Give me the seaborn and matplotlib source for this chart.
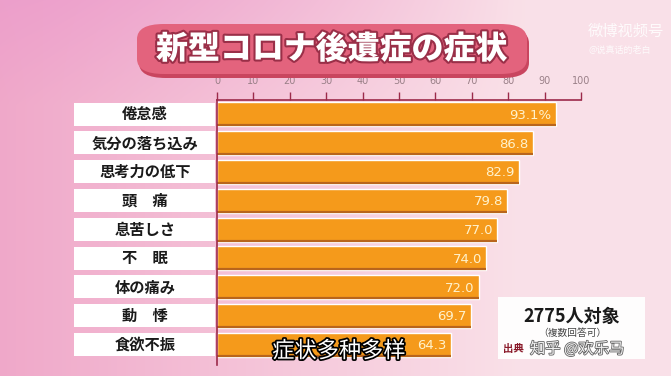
import numpy as np
import pandas as pd
import matplotlib
matplotlib.use("Agg")
import matplotlib.pyplot as plt
import matplotlib.patheffects as pe
from matplotlib.patches import Rectangle, FancyBboxPatch
from matplotlib.transforms import blended_transform_factory
import seaborn as sns

# data
symptoms = ["倦怠感", "気分の落ち込み", "思考力の低下", "頭　痛", "息苦しさ",
            "不　眠", "体の痛み", "動　悸", "食欲不振"]
percent = [93.1, 86.8, 82.9, 79.8, 77.0, 74.0, 72.0, 69.7, 64.3]
value_labels = ["93.1%", "86.8", "82.9", "79.8", "77.0", "74.0", "72.0", "69.7", "64.3"]
ticks = [0, 10, 20, 30, 40, 50, 60, 70, 80, 90, 100]

df = pd.DataFrame({"symptom": symptoms, "percent": percent})

sns.set_theme(style="white")
plt.rcParams["font.family"] = ["Noto Sans CJK JP", "DejaVu Sans"]

W, H = 671, 376
fig = plt.figure(figsize=(W / 100, H / 100), dpi=100)

# pink background gradient
bg = fig.add_axes([0, 0, 1, 1])
xx, yy = np.meshgrid(np.linspace(0, 1, W), np.linspace(0, 1, H))
left_c = np.array([0.94, 0.66, 0.79])
right_c = np.array([0.98, 0.88, 0.91])
t = np.clip(xx * 1.3, 0, 1)[..., None]
img = left_c * (1 - t) + right_c * t
top = np.clip((0.28 - yy) / 0.28, 0, 1)[..., None] * np.clip(1.1 - xx * 1.4, 0, 1)[..., None]
img = img * (1 - 0.6 * top) + np.array([0.92, 0.60, 0.80]) * 0.6 * top
bg.imshow(img, aspect="auto", extent=[0, 1, 0, 1], origin="upper")
bg.set_axis_off()

# title pill
fig.patches.append(FancyBboxPatch((139 / W, 1 - 78 / H), 390 / W, 50 / H,
                                  boxstyle="round,pad=0,rounding_size=0.04",
                                  transform=fig.transFigure, fc="#c9455f", ec="none"))
fig.patches.append(FancyBboxPatch((137 / W, 1 - 74 / H), 390 / W, 50 / H,
                                  boxstyle="round,pad=0,rounding_size=0.04",
                                  transform=fig.transFigure, fc="#e3637d", ec="none"))
fig.text(332 / W, 1 - 49 / H, "新型コロナ後遺症の症状", color="white", fontsize=23,
         fontweight="heavy", ha="center", va="center",
         path_effects=[pe.withStroke(linewidth=3, foreground="#9a2f48")])

# main bar axes
ax = fig.add_axes([217 / W, 1 - 365 / H, 364 / W, 265 / H])
ax.patch.set_alpha(0)
sns.barplot(data=df, x="percent", y="symptom", orient="h", color="#f59a1b",
            width=0.83, saturation=1, ax=ax)
ax.hlines(np.arange(len(percent)) + 0.38, 0, percent, color="#b9651c", lw=1.6)
ax.set_xlim(0, 100)
ax.set_ylim(8.7, -0.5)
ax.set_xticks(ticks)
ax.xaxis.tick_top()
ax.tick_params(axis="x", direction="out", length=6, width=1, color="#9c2a4a",
               labelcolor="#9a8088", labelsize=7, pad=4, top=True, bottom=False)
for lbl in ax.get_xticklabels():
    lbl.set_fontfamily(["DejaVu Sans"])
ax.set_yticks([])
ax.set_xlabel("")
ax.set_ylabel("")
for s in ["right", "bottom"]:
    ax.spines[s].set_visible(False)
for s in ["top", "left"]:
    ax.spines[s].set_color("#9c2a4a")
    ax.spines[s].set_linewidth(1.2)

for i, (v, s) in enumerate(zip(percent, value_labels)):
    ax.text(v - 1.2, i + 0.03, s, color="#fff2cc", fontsize=9.5, ha="right", va="center",
            family=["DejaVu Sans"])

# white label boxes on the left
tr = blended_transform_factory(fig.transFigure, ax.transData)
for i, name in enumerate(symptoms):
    ax.add_patch(Rectangle((74 / W, i - 0.41), 141 / W, 0.8, transform=tr,
                           fc="white", ec="none", clip_on=False))
    ax.text(145 / W, i, name, transform=tr, fontsize=11, color="#1a1a1a",
            ha="center", va="center", fontweight="bold")

# info box
fig.patches.append(Rectangle((498 / W, 1 - 359 / H), 147 / W, 62 / H,
                             transform=fig.transFigure, fc="white", ec="none", alpha=0.95))
fig.text(572 / W, 1 - 316 / H, "2775人対象", fontsize=13, color="#1a1a1a",
         ha="center", va="center", fontweight="bold")
fig.text(572 / W, 1 - 333 / H, "（複数回答可）", fontsize=7, color="#444444",
         ha="center", va="center")
fig.text(503 / W, 1 - 349 / H, "出典", fontsize=7.5, color="#8a1a2a",
         ha="left", va="center", fontweight="bold")
fig.text(530 / W, 1 - 349 / H, "知乎 @欢乐马", fontsize=11, color="white",
         ha="left", va="center", alpha=0.9,
         path_effects=[pe.withStroke(linewidth=1.2, foreground="#555555")])

# overlays from the video
fig.text(339 / W, 1 - 351 / H, "症状多种多样", fontsize=16, color="white",
         ha="center", va="center",
         path_effects=[pe.withStroke(linewidth=2.5, foreground="black")])
fig.text(588 / W, 1 - 31 / H, "微博视频号", fontsize=11, color="white", alpha=0.85,
         ha="left", va="center")
fig.text(620 / W, 1 - 50 / H, "@说真话的老白", fontsize=6.5, color="white", alpha=0.85,
         ha="center", va="center")

fig.savefig("out.png", dpi=100)
